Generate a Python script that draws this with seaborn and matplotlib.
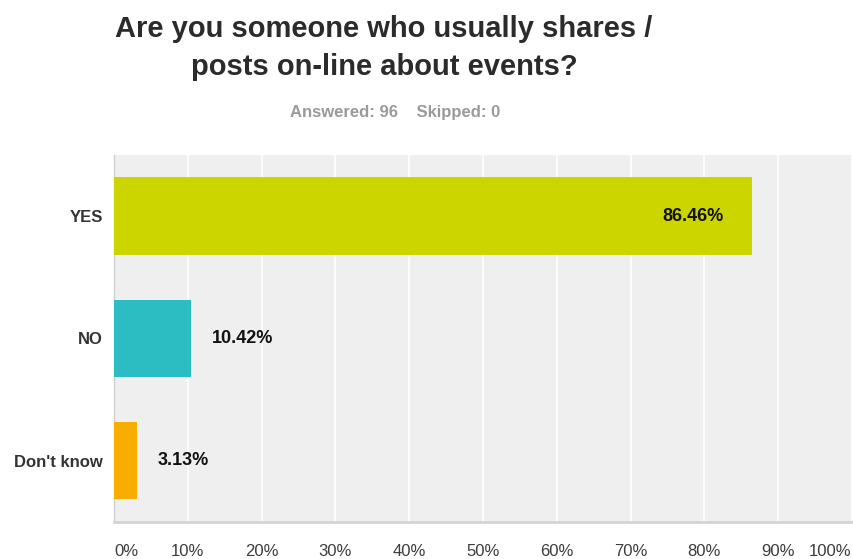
import matplotlib
matplotlib.use("Agg")
import matplotlib.pyplot as plt
import seaborn as sns
import pandas as pd

categories = ["YES", "NO", "Don't know"]
percent = [86.46, 10.42, 3.13]
value_labels = ["86.46%", "10.42%", "3.13%"]
bar_colors = ["#cdd500", "#2bbdc1", "#f8ae00"]
x_ticks = [0, 10, 20, 30, 40, 50, 60, 70, 80, 90, 100]
x_tick_labels = ["0%", "10%", "20%", "30%", "40%", "50%", "60%", "70%", "80%", "90%", "100%"]

sns.set_theme(style="white")
plt.rcParams["font.family"] = ["Liberation Sans", "DejaVu Sans"]

df = pd.DataFrame({"answer": categories, "pct": percent})

fig = plt.figure(figsize=(8.54, 5.59), dpi=100)
ax = fig.add_axes([0.1335, 0.066, 0.864, 0.657])
ax.set_facecolor("#efefef")

sns.barplot(data=df, y="answer", x="pct", hue="answer", palette=bar_colors,
            order=categories, hue_order=categories, orient="h",
            width=0.63, saturation=1, legend=False, ax=ax, zorder=3, linewidth=0)

ax.set_xlim(0, 100)
ax.set_ylim(2.5, -0.5)
ax.set_xticks(x_ticks)
ax.set_xticklabels(x_tick_labels)
ax.xaxis.grid(True, color="white", linewidth=1.2, zorder=1)
ax.yaxis.grid(False)
ax.set_axisbelow(True)
ax.set_xlabel("")
ax.set_ylabel("")

for s in ["top", "right"]:
    ax.spines[s].set_visible(False)
ax.spines["bottom"].set_color("#d4d4d4")
ax.spines["bottom"].set_linewidth(2)
ax.spines["left"].set_color("#d0d0d0")
ax.spines["left"].set_linewidth(1)

ax.tick_params(axis="x", length=0, pad=16, labelsize=12, labelcolor="#3c3c3c")
ax.tick_params(axis="y", length=0, pad=8, labelsize=12, labelcolor="#333333")
for lbl in ax.get_yticklabels():
    lbl.set_fontweight("bold")

# keep the end tick labels inside the figure
xlbls = ax.get_xticklabels()
xlbls[0].set_horizontalalignment("left")
xlbls[0].set_x(0.4)
xlbls[-1].set_horizontalalignment("right")

# value labels: inside the long bar, beside the short ones
for i, (v, txt) in enumerate(zip(percent, value_labels)):
    if v > 50:
        ax.text(v - 3.8, i, txt, ha="right", va="center", fontsize=13,
                fontweight="bold", color="#111111", zorder=4)
    else:
        ax.text(v + 2.8, i, txt, ha="left", va="center", fontsize=13,
                fontweight="bold", color="#111111", zorder=4)

fig.text(0.4496, 0.934, "Are you someone who usually shares /",
         ha="center", va="baseline", fontsize=21, fontweight="bold", color="#2b2b2b")
fig.text(0.4496, 0.866, "posts on-line about events?",
         ha="center", va="baseline", fontsize=21, fontweight="bold", color="#2b2b2b")
fig.text(0.463, 0.798, "Answered: 96    Skipped: 0", ha="center", va="center",
         fontsize=12, fontweight="bold", color="#9a9a9a")

fig.savefig("out.png", dpi=100, facecolor="white")
